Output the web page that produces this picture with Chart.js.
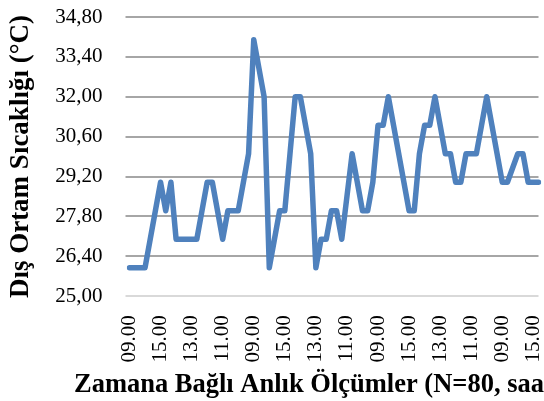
<!DOCTYPE html>
<html lang="tr">
<head>
<meta charset="utf-8">
<title>Dış Ortam Sıcaklığı</title>
<script src="https://cdn.jsdelivr.net/npm/chart.js@4.4.1/dist/chart.umd.min.js"></script>
<style>
    html, body { margin: 0; padding: 0; background: #ffffff; }
    #wrap { width: 544px; height: 401px; }
</style>
</head>
<body>
<div id="wrap"><canvas id="chart-temp" width="544" height="401"></canvas></div>
<script>
// Dış ortam sıcaklığı - saatlik anlık ölçümler (09.00-16.00, 10 gün)

const hours = ['09.00', '10.00', '11.00', '12.00', '13.00', '14.00', '15.00', '16.00'];
const dayCount = 10;

// Ölçülen değerler (°C), 80 nokta
const temps = [
    26, 26, 26, 26, 27, 28, 29, 28,
    29, 27, 27, 27, 27, 27, 28, 29,
    29, 28, 27, 28, 28, 28, 29, 30,
    34, 33, 32, 26, 27, 28, 28, 30,
    32, 32, 31, 30, 26, 27, 27, 28,
    28, 27, 28.5, 30, 29, 28, 28, 29,
    31, 31, 32, 31, 30, 29, 28, 28,
    30, 31, 31, 32, 31, 30, 30, 29,
    29, 30, 30, 30, 31, 32, 31, 30,
    29, 29, 29.5, 30, 30, 29, 29, 29
];

// Y ekseni
const yMin = 25;
const yMax = 34.8;
const yStep = 1.4;
const labelEvery = 6;

const serif = "'Liberation Serif', 'Times New Roman', serif";

// Kategori etiketleri (her gün 09.00-16.00)
const labels = [];
for (let d = 0; d < dayCount; d++) {
    hours.forEach(h => labels.push(h));
}

Chart.defaults.font.family = serif;
Chart.defaults.color = '#000000';

const ctx = document.getElementById('chart-temp');
const chart = new Chart(ctx, {
    type: 'line',
    data: {
        labels: labels,
        datasets: [{
            data: temps,
            borderColor: '#4f81bd',
            borderWidth: 5.5,
            borderJoinStyle: 'round',
            borderCapStyle: 'round',
            pointRadius: 0,
            tension: 0,
            fill: false
        }]
    },
    options: {
        responsive: false,
        animation: false,
        devicePixelRatio: 1,
        layout: {
            padding: 0
        },
        plugins: {
            legend: { display: false },
            tooltip: { enabled: false },
            title: {
                display: true,
                position: 'bottom',
                align: 'end',
                text: 'Zamana Bağlı Anlık Ölçümler (N=80, saa',
                color: '#000000',
                font: { size: 26.5, weight: 'bold', lineHeight: 1.2 },
                padding: 0
            }
        },
        scales: {
            x: {
                grid: { display: false },
                border: { display: false },
                ticks: {
                    autoSkip: false,
                    minRotation: 90,
                    maxRotation: 90,
                    padding: 11,
                    font: { size: 21 },
                    callback: function(value, index) {
                        return index % labelEvery === 0 ? labels[index] : '';
                    }
                },
                afterFit: function(scale) {
                    scale.height = 73;
                    scale.paddingRight = 5.5;
                }
            },
            y: {
                min: yMin,
                max: yMax,
                border: { display: false },
                grid: {
                    color: c => (c.tick && c.tick.value === yMin) ? '#d9d9d9' : '#a6a6a6',
                    lineWidth: 2,
                    drawTicks: true,
                    tickLength: 4
                },
                ticks: {
                    stepSize: yStep,
                    padding: 23,
                    font: { size: 21 },
                    callback: function(value) {
                        return value.toFixed(2).replace('.', ',');
                    }
                },
                title: {
                    display: true,
                    text: 'Dış Ortam Sıcaklığı (°C)',
                    color: '#000000',
                    font: { size: 27, weight: 'bold', lineHeight: 1.2 },
                    padding: { top: 5, bottom: 0 }
                },
                afterFit: function(scale) {
                    scale.width = 129.5;
                    scale.paddingTop = 17;
                    scale.paddingBottom = 0;
                }
            }
        }
    }
});
</script>
</body>
</html>
